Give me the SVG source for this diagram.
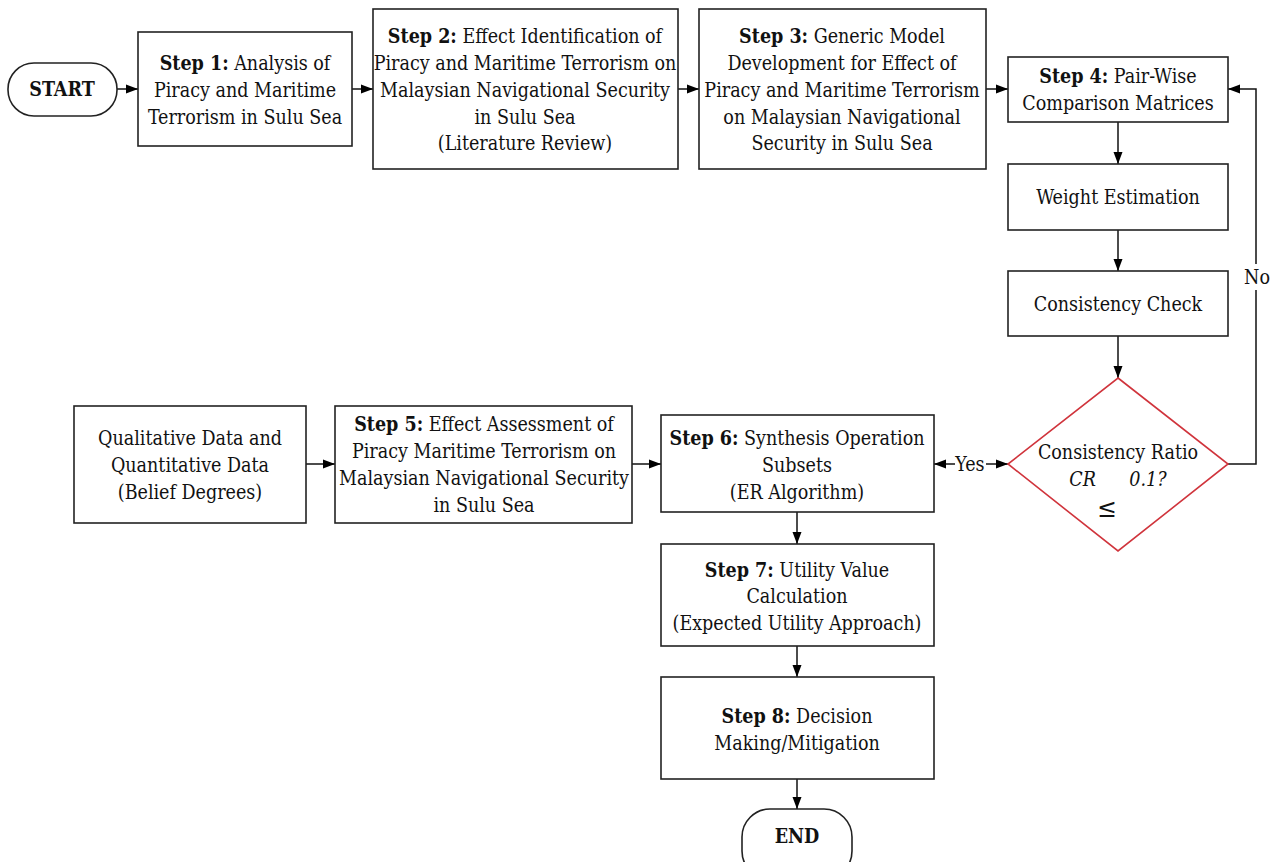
<svg xmlns="http://www.w3.org/2000/svg" width="1273" height="862" viewBox="0 0 1273 862">
<defs>
<marker id="ah" viewBox="0 0 12 10" refX="12" refY="5" markerWidth="12" markerHeight="10" markerUnits="userSpaceOnUse" orient="auto-start-reverse"><path d="M0,0.5 L12,5 L0,9.5 z" fill="#000"/></marker>
<style>
.box{fill:#fff;stroke:#222;stroke-width:1.6}
.dia{fill:#fff;stroke:#d0343c;stroke-width:1.6}
.ln{fill:none;stroke:#111;stroke-width:1.5}
text{font-family:"DejaVu Serif Condensed","DejaVu Serif","Liberation Serif",serif;font-stretch:condensed;font-size:19.5px;fill:#111;text-anchor:middle}
.b{font-weight:bold}
.i{font-style:italic}
.le{font-size:26px}
</style>
</defs>
<g id="connectors">
<line class="ln" x1="117" y1="89" x2="138" y2="89" marker-end="url(#ah)"/>
<line class="ln" x1="352" y1="89" x2="373" y2="89" marker-end="url(#ah)"/>
<line class="ln" x1="678" y1="89" x2="699" y2="89" marker-end="url(#ah)"/>
<line class="ln" x1="986" y1="89" x2="1008" y2="89" marker-end="url(#ah)"/>
<line class="ln" x1="1118" y1="122" x2="1118" y2="164" marker-end="url(#ah)"/>
<line class="ln" x1="1118" y1="230" x2="1118" y2="271" marker-end="url(#ah)"/>
<line class="ln" x1="1118" y1="336" x2="1118" y2="378" marker-end="url(#ah)"/>
<polyline class="ln" points="1228,464 1256,464 1256,290"/>
<polyline class="ln" points="1256,264 1256,89 1228,89" marker-end="url(#ah)"/>
<text x="1257" y="284">No</text>
<line class="ln" x1="955" y1="464" x2="934" y2="464" marker-end="url(#ah)"/>
<line class="ln" x1="986" y1="464" x2="1008" y2="464" marker-end="url(#ah)"/>
<text x="970" y="471">Yes</text>
<line class="ln" x1="306" y1="464" x2="335" y2="464" marker-end="url(#ah)"/>
<line class="ln" x1="632" y1="464" x2="661" y2="464" marker-end="url(#ah)"/>
<line class="ln" x1="797" y1="512" x2="797" y2="544" marker-end="url(#ah)"/>
<line class="ln" x1="797" y1="646" x2="797" y2="677" marker-end="url(#ah)"/>
<line class="ln" x1="797" y1="779" x2="797" y2="809" marker-end="url(#ah)"/>
</g>
<g id="start">
<rect class="box" x="8" y="63" width="109" height="53" rx="26"/>
<text class="b" x="62" y="96">START</text>
</g>
<g id="step1">
<rect class="box" x="138" y="32" width="214" height="114"/>
<text x="245" y="70"><tspan class="b">Step 1:</tspan> Analysis of</text>
<text x="245" y="97">Piracy and Maritime</text>
<text x="245" y="124">Terrorism in Sulu Sea</text>
</g>
<g id="step2">
<rect class="box" x="373" y="9" width="305" height="160"/>
<text x="525" y="43"><tspan class="b">Step 2:</tspan> Effect Identification of</text>
<text x="525" y="70">Piracy and Maritime Terrorism on</text>
<text x="525" y="97">Malaysian Navigational Security</text>
<text x="525" y="124">in Sulu Sea</text>
<text x="525" y="150">(Literature Review)</text>
</g>
<g id="step3">
<rect class="box" x="699" y="9" width="287" height="160"/>
<text x="842" y="43"><tspan class="b">Step 3:</tspan> Generic Model</text>
<text x="842" y="70">Development for Effect of</text>
<text x="842" y="97">Piracy and Maritime Terrorism</text>
<text x="842" y="124">on Malaysian Navigational</text>
<text x="842" y="150">Security in Sulu Sea</text>
</g>
<g id="step4">
<rect class="box" x="1008" y="57" width="220" height="65"/>
<text x="1118" y="83"><tspan class="b">Step 4:</tspan> Pair-Wise</text>
<text x="1118" y="110">Comparison Matrices</text>
</g>
<g id="weight">
<rect class="box" x="1008" y="164" width="220" height="66"/>
<text x="1118" y="204">Weight Estimation</text>
</g>
<g id="check">
<rect class="box" x="1008" y="271" width="220" height="65"/>
<text x="1118" y="311">Consistency Check</text>
</g>
<g id="decision">
<polygon class="dia" points="1118,378 1228,464 1118,551 1008,464"/>
<text x="1118" y="459">Consistency Ratio</text>
<text class="i" x="1118" y="486" xml:space="preserve">CR      0.1?</text>
<text class="le" x="1107" y="517">≤</text>
</g>
<g id="data">
<rect class="box" x="74" y="406" width="232" height="117"/>
<text x="190" y="445">Qualitative Data and</text>
<text x="190" y="472">Quantitative Data</text>
<text x="190" y="499">(Belief Degrees)</text>
</g>
<g id="step5">
<rect class="box" x="335" y="406" width="297" height="117"/>
<text x="484" y="431"><tspan class="b">Step 5:</tspan> Effect Assessment of</text>
<text x="484" y="458">Piracy Maritime Terrorism on</text>
<text x="484" y="485">Malaysian Navigational Security</text>
<text x="484" y="512">in Sulu Sea</text>
</g>
<g id="step6">
<rect class="box" x="661" y="415" width="273" height="97"/>
<text x="797" y="445"><tspan class="b">Step 6:</tspan> Synthesis Operation</text>
<text x="797" y="472">Subsets</text>
<text x="797" y="499">(ER Algorithm)</text>
</g>
<g id="step7">
<rect class="box" x="661" y="544" width="273" height="102"/>
<text x="797" y="577"><tspan class="b">Step 7:</tspan> Utility Value</text>
<text x="797" y="603">Calculation</text>
<text x="797" y="630">(Expected Utility Approach)</text>
</g>
<g id="step8">
<rect class="box" x="661" y="677" width="273" height="102"/>
<text x="797" y="723"><tspan class="b">Step 8:</tspan> Decision</text>
<text x="797" y="750">Making/Mitigation</text>
</g>
<g id="end">
<rect class="box" x="742" y="809" width="110" height="70" rx="28"/>
<text class="b" x="797" y="843">END</text>
</g>
</svg>
